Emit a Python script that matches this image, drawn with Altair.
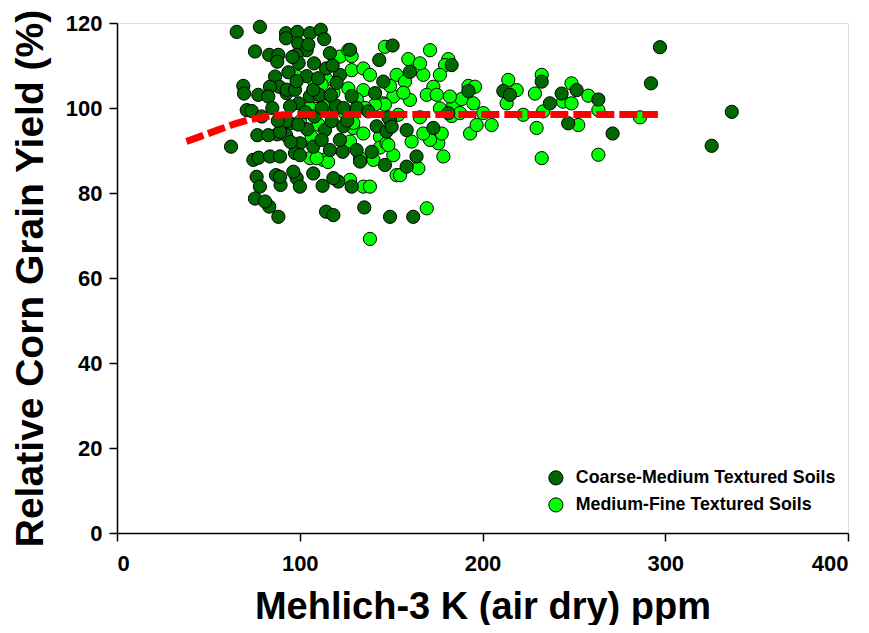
import altair as alt
import pandas as pd

# Coarse-Medium Textured Soils (dark green)
cm_x = [65.5, 78.2, 92.5, 92.5, 98.7, 105.6, 111.5, 113.4, 99.2, 103.8, 75.5, 83.3, 88.3, 87.7, 98.3,
        107.8, 116.5, 114.4, 99.4, 93.8, 86.5, 88.8, 83.7, 69.1, 69.5, 77.3, 82.8, 92.8, 99.4, 105.6,
        110.7, 119.8, 71.0, 73.7, 94.7, 104.1, 113.8, 76.8, 87.7, 92.5, 100.1, 62.4, 74.6, 77.5, 83.7,
        89.2, 97.4, 107.4, 116.5, 123.5, 131.1, 139.4, 146.6, 76.4, 78.2, 87.0, 89.5, 98.3, 100.1, 107.4,
        112.5, 121.1, 128.4, 75.5, 83.3, 88.3, 114.4, 118.4, 135.3, 149.4,
        92.9, 97.4, 79.2, 94.7, 92.9, 99.2,
        104.7, 127.5, 143.5, 150.8, 103.8, 122.0, 98.3, 107.4, 120.2, 128.4, 141.2, 145.7, 131.2, 137.5,
        149.4, 117.5, 123.8, 142.1,
        160.3, 183.1, 158.5, 147.5, 173.1, 181.3, 192.3, 211.4, 215.0, 232.4, 236.9, 243.3, 246.9, 162.1,
        163.9, 158.5, 148.5,
        297.1, 292.2, 336.4, 325.4, 271.2, 263.4, 251.5,
        82.8, 89.2, 89.2, 81.0, 96.5, 100.1, 118.4, 133.0, 122.0, 112.0, 150.3,
        85.0, 88.0, 95.0, 103.0, 108.0, 112.0, 117.0, 124.0, 126.0, 110.0, 118.0, 96.0]
cm_y = [117.9, 119.1, 117.6, 116.4, 117.9, 117.6, 118.4, 116.2, 115.2, 113.6, 113.3, 112.5, 112.5, 110.9, 112.5,
        110.5, 112.9, 109.3, 110.6, 108.4, 107.4, 105.0, 105.0, 105.2, 103.4, 103.1, 102.7, 103.5, 101.1, 102.8,
        103.1, 100.6, 99.5, 99.3, 96.4, 95.0, 94.8, 93.6, 93.8, 93.6, 91.7, 90.9, 87.8, 88.3, 88.6,
        88.6, 89.4, 90.9, 90.1, 89.7, 90.1, 89.7, 86.6, 83.8, 81.5, 84.2, 81.9, 83.5, 81.5, 84.6,
        81.7, 82.7, 81.5, 78.7, 76.8, 74.4, 75.6, 74.8, 76.6, 74.4,
        104.3, 104.3, 98.0, 100.4, 96.9, 96.1,
        114.9, 113.7, 111.3, 114.7, 107.5, 107.8, 106.3, 104.3, 105.9, 102.8, 103.5, 106.2, 100.0, 99.2,
        97.2, 96.9, 95.7, 95.7,
        108.5, 110.1, 94.8, 94.5, 95.3, 98.8, 104.0, 104.0, 103.1, 106.2, 101.1, 103.4, 96.4, 74.4,
        88.6, 86.2, 97.8,
        114.3, 105.8, 99.1, 91.1, 94.0, 102.0, 104.2,
        93.6, 94.4, 83.8, 78.0, 85.0, 88.9, 83.5, 87.4, 92.5, 92.5, 95.6,
        100.0, 97.0, 92.0, 99.0, 98.0, 100.0, 103.0, 100.0, 97.0, 107.0, 110.0, 112.0]

# Medium-Fine Textured Soils (bright green)
mf_x = [138.4, 134.8, 127.5, 112.9, 115.5, 106.5, 107.4, 122.0, 126.6, 128.4, 126.6, 134.8, 138.4, 134.8,
        146.6, 153.0, 151.2, 129.3, 134.8, 143.9, 127.5, 140.3, 133.0, 153.0, 143.9, 118.4, 114.7,
        171.3, 159.4, 181.3, 179.5, 167.6, 157.6, 176.7, 173.1, 169.5, 175.0, 160.3, 145.7, 184.0, 188.6,
        192.3, 195.9, 195.0, 200.4, 205.0, 193.2, 196.8, 214.1, 218.7, 213.2, 222.3, 229.6, 232.4, 228.7,
        233.2, 232.4, 248.7, 244.1, 248.7, 252.4, 169.5, 154.9, 164.9, 178.6, 175.8, 171.3, 167.6, 177.7,
        151.2, 147.5, 161.2, 153.9, 165.8, 183.1, 187.7, 156.7, 149.4, 165.8, 176.7, 182.2,
        257.9, 263.4, 263.4, 286.2,
        128.4, 114.7, 112.0, 108.3, 131.2, 146.6, 141.2, 112.9, 124.8, 105.6, 135.7, 129.3, 110.2,
        138.4, 148.5, 105.6, 109.3, 98.3, 100.1]
mf_y = [69.2, 81.5, 83.1, 87.8, 87.3, 93.2, 106.6, 112.1, 113.6, 108.9, 104.6, 109.3, 107.8, 104.2,
        114.4, 107.8, 102.7, 95.3, 94.0, 93.2, 92.1, 87.8, 88.2, 84.2, 90.7, 103.6, 100.6,
        113.6, 111.5, 111.5, 110.1, 107.8, 106.2, 107.8, 105.0, 103.1, 103.1, 101.9, 101.1, 100.6, 102.1,
        105.2, 105.0, 101.1, 98.8, 96.0, 94.0, 96.0, 106.6, 104.2, 101.1, 98.4, 95.3, 107.8, 103.4,
        99.2, 88.2, 105.8, 101.5, 101.1, 96.0, 76.4, 84.2, 85.8, 88.6, 91.7, 92.5, 94.0, 94.0,
        88.9, 91.7, 92.1, 98.4, 97.8, 98.1, 98.8, 103.6, 105.2, 110.5, 99.9, 102.7,
        102.9, 99.5, 89.0, 97.8,
        112.2, 106.7, 105.5, 102.8, 102.0, 100.8, 100.8, 100.4, 98.8, 100.0, 100.0, 96.5, 96.1,
        81.5, 91.3, 88.2, 88.2, 107.4, 96.8]

# Fitted response curve
fit_x = [38, 45, 55, 64, 73, 82, 91, 100, 296]
fit_y = [92.1, 93.2, 94.8, 96.2, 97.3, 98.0, 98.4, 98.5, 98.5]

series = ["Coarse-Medium Textured Soils", "Medium-Fine Textured Soils"]
colors = ["#006800", "#00FF00"]

pts = pd.concat([
    pd.DataFrame({"k": mf_x, "y": mf_y, "soil": series[1], "ord": 0}),
    pd.DataFrame({"k": cm_x, "y": cm_y, "soil": series[0], "ord": 1}),
], ignore_index=True)
fit = pd.DataFrame({"k": fit_x, "y": fit_y})

FONT = "Liberation Sans"

xscale = alt.Scale(domain=[0, 400], nice=False, zero=False)
yscale = alt.Scale(domain=[0, 120], nice=False, zero=False)

xaxis = alt.Axis(values=[0, 100, 200, 300, 400], title="Mehlich-3 K (air dry) ppm",
                 grid=False, tickSize=8, labelPadding=12, titlePadding=14,
                 labelFontSize=22, titleFontSize=38, labelFont=FONT, titleFont=FONT,
                 labelFontWeight="bold", titleFontWeight="bold", labelColor="black", titleColor="black",
                 domainColor="black", tickColor="black", domainWidth=1.5, tickWidth=1.5)
yaxis = alt.Axis(values=[0, 20, 40, 60, 80, 100, 120], title="Relative Corn Grain Yield (%)",
                 grid=False, tickSize=8, labelPadding=7, titlePadding=15,
                 labelFontSize=22, titleFontSize=39, labelFont=FONT, titleFont=FONT,
                 labelFontWeight="bold", titleFontWeight="bold", labelColor="black", titleColor="black",
                 domainColor="black", tickColor="black", domainWidth=1.5, tickWidth=1.5)

points = alt.Chart(pts).mark_point(filled=True, shape="circle", size=175, stroke="black",
                                    strokeWidth=1, opacity=1).encode(
    x=alt.X("k:Q", scale=xscale, axis=xaxis),
    y=alt.Y("y:Q", scale=yscale, axis=yaxis),
    fill=alt.Fill("soil:N", scale=alt.Scale(domain=series, range=colors),
                  legend=alt.Legend(title=None, orient="none", legendX=430, legendY=446,
                                    symbolType="circle", symbolSize=200, symbolStrokeColor="black",
                                    symbolStrokeWidth=1, labelFont=FONT, labelFontSize=17.8,
                                    labelFontWeight="bold", labelColor="black", labelOffset=11,
                                    rowPadding=8, padding=0, labelLimit=400)),
    order=alt.Order("ord:Q"),
)

curve = alt.Chart(fit).mark_line(color="#FF0000", strokeWidth=7, strokeDash=[18, 5],
                                 strokeCap="butt").encode(
    x=alt.X("k:Q", scale=xscale),
    y=alt.Y("y:Q", scale=yscale),
)

chart = (points + curve).properties(
    width=731, height=510,
    autosize=alt.AutoSizeParams(type="none"),
    padding={"left": 109, "top": 15, "right": 13, "bottom": 92},
).configure_view(stroke="black", strokeWidth=1.5).configure(background="white")

chart.save("out.html", embed_options={"renderer": "svg", "actions": False})
